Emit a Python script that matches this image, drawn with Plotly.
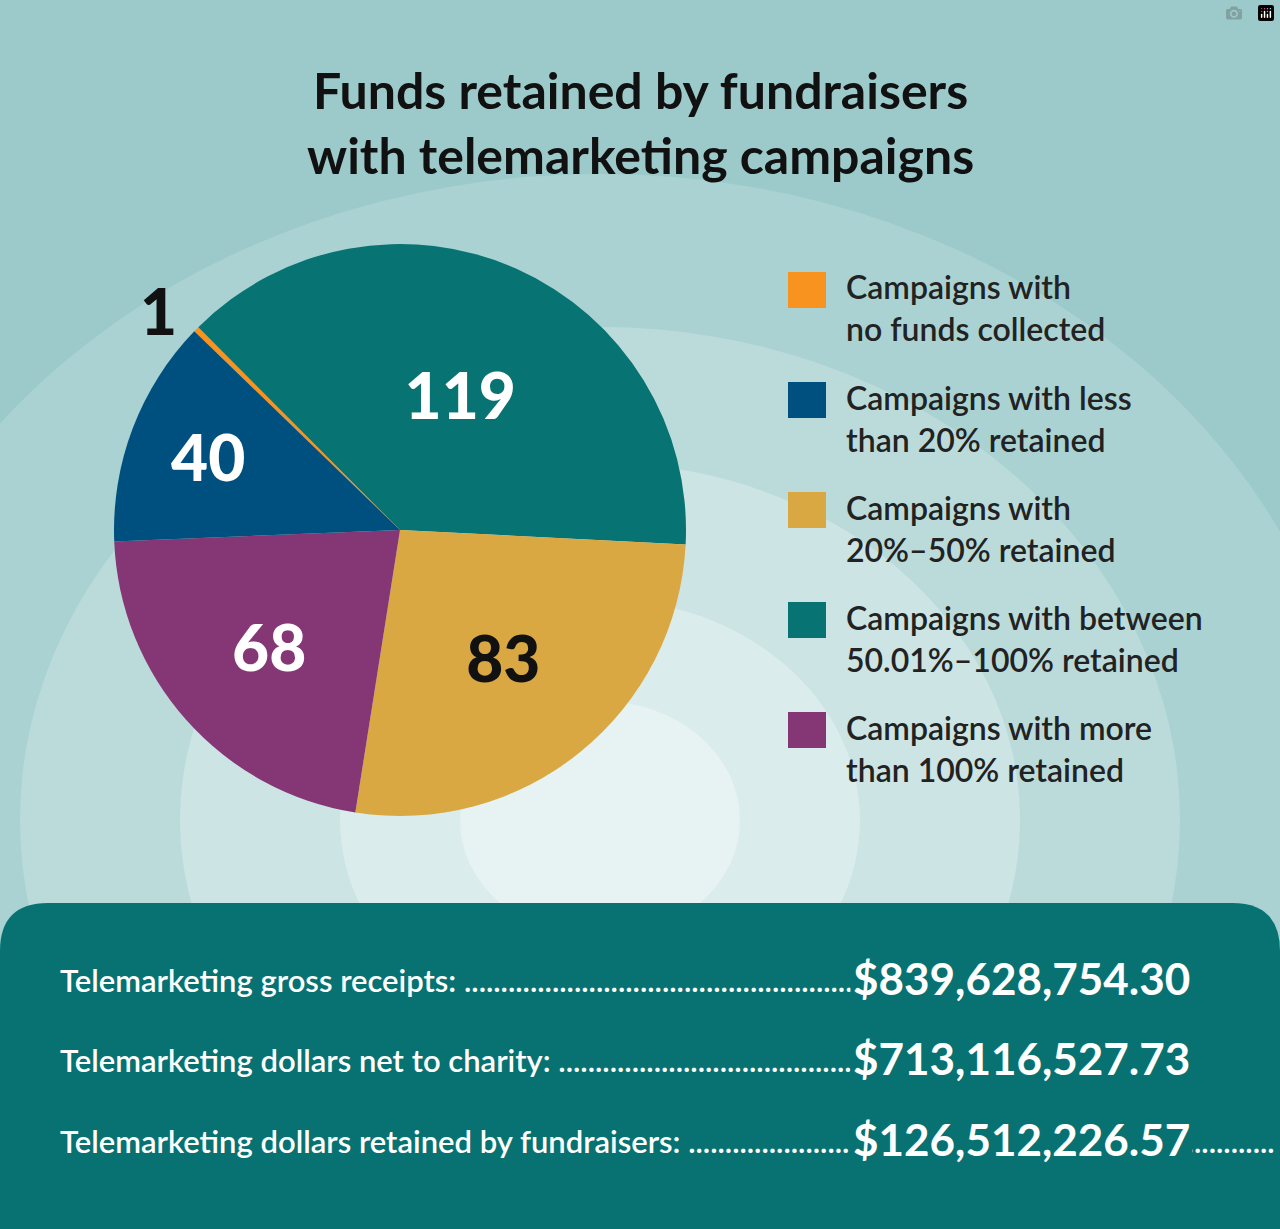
import plotly.graph_objects as go

W, H = 1280, 1229

labels = ["Campaigns with<br>no funds collected",
          "Campaigns with between<br>50.01%–100% retained",
          "Campaigns with<br>20%–50% retained",
          "Campaigns with more<br>than 100% retained",
          "Campaigns with less<br>than 20% retained"]
values = [1, 119, 83, 68, 40]
colors = ["#f7931e", "#077373", "#d9a843", "#853675", "#00507f"]
text_colors = ["#111111", "white", "#111111", "white", "white"]

# legend order as shown
legend_order = [0, 4, 2, 1, 3]
legend_y = [308, 418, 528, 638, 748]

stat_labels = ["Telemarketing gross receipts:",
               "Telemarketing dollars net to charity:",
               "Telemarketing dollars retained by fundraisers:"]
stat_values = ["$839,628,754.30", "$713,116,527.73", "$126,512,226.57"]
stat_y = [980, 1060, 1141]

fig = go.Figure()
fig.add_trace(go.Pie(
    labels=labels, values=values, sort=False, direction="clockwise",
    rotation=-46, hole=0,
    marker=dict(colors=colors, line=dict(width=0)),
    texttemplate="%{value}",
    textposition=["outside", "inside", "inside", "inside", "inside"],
    textfont=dict(family="Lato", size=64, color=text_colors, weight=900),
    insidetextorientation="horizontal",
    domain=dict(x=[114 / W, 686 / W], y=[1 - 816 / H, 1 - 244 / H]),
    showlegend=False, hoverinfo="skip",
))

def px(x):
    return x / W

def py(y):
    return 1 - y / H

shapes = []
# soft background glow
for r, op in [(760, 0.15), (580, 0.2), (420, 0.25), (260, 0.3), (140, 0.35)]:
    shapes.append(dict(type="circle", xref="paper", yref="paper",
                       x0=px(600 - r), x1=px(600 + r), y0=py(820 + r * 0.85), y1=py(820 - r * 0.85),
                       fillcolor="white", opacity=op, line=dict(width=0), layer="below"))

# bottom panel with rounded top corners
r = 48
x0, x1, y0, y1 = 0, W, 903, H
path = (f"M {px(x0)} {py(y1)} L {px(x0)} {py(y0 + r)} "
        f"Q {px(x0)} {py(y0)} {px(x0 + r)} {py(y0)} "
        f"L {px(x1 - r)} {py(y0)} Q {px(x1)} {py(y0)} {px(x1)} {py(y0 + r)} "
        f"L {px(x1)} {py(y1)} Z")
shapes.append(dict(type="path", xref="paper", yref="paper", path=path,
                   fillcolor="#087272", line=dict(width=0)))

annotations = [dict(
    text="<b>Funds retained by fundraisers<br>with telemarketing campaigns</b>",
    x=0.5, y=py(58), xref="paper", yref="paper", showarrow=False,
    xanchor="center", yanchor="top",
    font=dict(family="Lato", size=50, color="#111111", weight=900))]

for i, k in enumerate(legend_order):
    cy = legend_y[i] - 18
    s = 18
    shapes.append(dict(type="rect", xref="paper", yref="paper",
                       x0=px(788), x1=px(826), y0=py(cy + s), y1=py(cy - s),
                       fillcolor=colors[k], line=dict(width=0)))
    annotations.append(dict(text=labels[k], x=px(844), y=py(legend_y[i]),
                            xref="paper", yref="paper", showarrow=False,
                            xanchor="left", yanchor="middle", align="left",
                            font=dict(family="Lato", size=32, color="#222222", weight=600)))

for lab, val, y in zip(stat_labels, stat_values, stat_y):
    annotations.append(dict(text=lab + " " + "." * 80, x=px(58), y=py(y),
                            xref="paper", yref="paper", showarrow=False,
                            xanchor="left", yanchor="middle",
                            font=dict(family="Lato", size=31, color="white", weight=600)))
for val, y in zip(stat_values, stat_y):
    annotations.append(dict(text=f"<b>{val}</b>", x=px(850), y=py(y - 2),
                            xref="paper", yref="paper", showarrow=False,
                            xanchor="left", yanchor="middle", bgcolor="#087272",
                            borderpad=2,
                            font=dict(family="Lato", size=44, color="white", weight=900)))

fig.update_layout(
    width=W, height=H, margin=dict(l=0, r=0, t=0, b=0),
    paper_bgcolor="#9ccaca", plot_bgcolor="rgba(0,0,0,0)",
    shapes=shapes, annotations=annotations,
)
fig.write_html("out.html", post_script="document.body.style.margin='0';")
